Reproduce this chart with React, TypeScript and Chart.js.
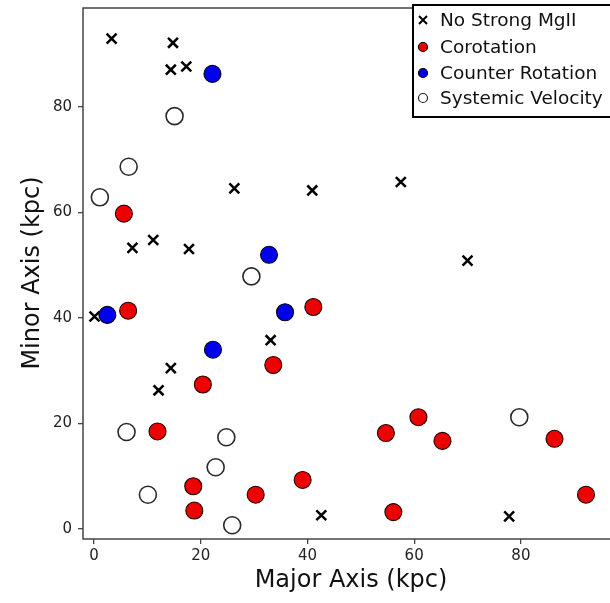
import React, { useEffect, useRef } from "react";
import { Chart, registerables } from "chart.js";

Chart.register(...registerables);

const noMgX = [3.3, 14.8, 14.4, 17.3, 26.3, 40.9, 57.5, 70.0, 7.2, 11.1, 17.8, 0.1, 33.1, 14.4, 12.1, 42.6, 77.8];
const noMgY = [93.0, 92.2, 87.1, 87.7, 64.6, 64.2, 65.8, 50.9, 53.3, 54.8, 53.1, 40.3, 35.8, 30.5, 26.3, 2.6, 2.4];

const coroX = [5.6, 6.4, 41.1, 33.6, 20.4, 11.9, 54.7, 60.8, 65.3, 86.3, 92.2, 56.1, 39.1, 18.6, 30.3, 18.8];
const coroY = [59.8, 41.4, 42.1, 31.1, 27.4, 18.5, 18.2, 21.2, 16.7, 17.1, 6.5, 3.2, 9.3, 8.1, 6.5, 3.5];

const counterX = [22.2, 2.5, 35.8, 22.3, 32.8];
const counterY = [86.3, 40.6, 41.1, 34.0, 52.0];

const sysX = [1.1, 6.5, 15.1, 29.5, 6.1, 24.8, 22.8, 10.1, 25.9, 79.7];
const sysY = [62.9, 68.7, 78.3, 47.9, 18.4, 17.4, 11.7, 6.5, 0.7, 21.2];

const tickValues = [0, 20, 40, 60, 80];
const legendLabels = ["No Strong MgII", "Corotation", "Counter Rotation", "Systemic Velocity"];
const xTitle = "Major Axis (kpc)";
const yTitle = "Minor Axis (kpc)";

const FONT = "'DejaVu Sans', 'Liberation Sans', sans-serif";

function pts(xs: number[], ys: number[]) {
  return xs.map((x, i) => ({ x, y: ys[i] }));
}

const framePlugin = {
  id: "frameAndLegend",
  afterDraw(chart: any) {
    const { ctx, chartArea } = chart;
    const { left, top, right, bottom } = chartArea;
    ctx.save();
    ctx.strokeStyle = "#444";
    ctx.lineWidth = 1.5;
    ctx.beginPath();
    ctx.moveTo(right + 5, top);
    ctx.lineTo(left, top);
    ctx.lineTo(left, bottom);
    ctx.lineTo(right + 5, bottom);
    ctx.stroke();

    ctx.fillStyle = "#111";
    ctx.font = `24px ${FONT}`;
    ctx.textAlign = "center";
    ctx.textBaseline = "middle";
    ctx.fillText(xTitle, 351, 581);
    ctx.save();
    ctx.translate(33, 273);
    ctx.rotate(-Math.PI / 2);
    ctx.fillText(yTitle, 0, 0);
    ctx.restore();

    const lx = 413;
    const ly = 5;
    const lh = 112;
    ctx.fillStyle = "#fff";
    ctx.fillRect(lx, ly, 620 - lx, lh);
    ctx.strokeStyle = "#000";
    ctx.lineWidth = 2;
    ctx.strokeRect(lx, ly, 620 - lx, lh);
    const rows = [20, 47, 73, 98];
    const mx = 423;
    ctx.lineWidth = 2;
    ctx.strokeStyle = "#000";
    ctx.beginPath();
    ctx.moveTo(mx - 4, rows[0] - 4);
    ctx.lineTo(mx + 4, rows[0] + 4);
    ctx.moveTo(mx + 4, rows[0] - 4);
    ctx.lineTo(mx - 4, rows[0] + 4);
    ctx.stroke();
    const circ = (y: number, fill: string, stroke: string) => {
      ctx.beginPath();
      ctx.arc(mx, y, 4.5, 0, Math.PI * 2);
      ctx.fillStyle = fill;
      ctx.fill();
      ctx.lineWidth = 1.2;
      ctx.strokeStyle = stroke;
      ctx.stroke();
    };
    circ(rows[1], "#ee0000", "#000");
    circ(rows[2], "#0000ee", "#000");
    circ(rows[3], "#fff", "#222");
    ctx.fillStyle = "#111";
    ctx.font = `18.5px ${FONT}`;
    ctx.textAlign = "left";
    ctx.textBaseline = "middle";
    legendLabels.forEach((t, i) => ctx.fillText(t, 440, rows[i] + 1));
    ctx.restore();
  },
};

export default function App() {
  const ref = useRef<HTMLCanvasElement | null>(null);
  useEffect(() => {
    if (!ref.current) return;
    const setTicks = (scale: any) => {
      scale.ticks = tickValues.map((v) => ({ value: v }));
    };
    const chart = new Chart(ref.current, {
      type: "scatter",
      data: {
        datasets: [
          {
            label: legendLabels[0],
            data: pts(noMgX, noMgY),
            pointStyle: "crossRot",
            pointRadius: 7,
            borderColor: "#000",
            backgroundColor: "#000",
            borderWidth: 2.5,
            order: 4,
          },
          {
            label: legendLabels[1],
            data: pts(coroX, coroY),
            pointStyle: "circle",
            pointRadius: 8.5,
            backgroundColor: "#ee0000",
            borderColor: "#1a0000",
            borderWidth: 1.1,
            order: 3,
          },
          {
            label: legendLabels[2],
            data: pts(counterX, counterY),
            pointStyle: "circle",
            pointRadius: 8.5,
            backgroundColor: "#0000ee",
            borderColor: "#00001a",
            borderWidth: 1.1,
            order: 2,
          },
          {
            label: legendLabels[3],
            data: pts(sysX, sysY),
            pointStyle: "circle",
            pointRadius: 8.5,
            backgroundColor: "#fff",
            borderColor: "#2a2a2a",
            borderWidth: 1.6,
            order: 1,
          },
        ],
      },
      options: {
        animation: false,
        responsive: false,
        maintainAspectRatio: false,
        layout: { autoPadding: false, padding: { top: 8, right: 0, left: 0, bottom: 0 } },
        plugins: { legend: { display: false }, tooltip: { enabled: false } },
        scales: {
          x: {
            type: "linear",
            min: -2.06,
            max: 96.7,
            afterBuildTicks: setTicks,
            afterFit: (s: any) => {
              s.height = 64;
              s.paddingLeft = 0;
              s.paddingRight = 0;
            },
            border: { display: false },
            grid: { drawOnChartArea: false, drawTicks: true, tickLength: 5, color: "#444", lineWidth: 1.3 },
            ticks: { color: "#222", font: { family: FONT, size: 15 }, padding: 3, maxRotation: 0 },
          },
          y: {
            type: "linear",
            min: -1.9,
            max: 98.8,
            afterBuildTicks: setTicks,
            afterFit: (s: any) => {
              s.width = 83;
              s.paddingTop = 0;
              s.paddingBottom = 0;
            },
            border: { display: false },
            grid: { drawOnChartArea: false, drawTicks: true, tickLength: 5, color: "#444", lineWidth: 1.3 },
            ticks: { color: "#222", font: { family: FONT, size: 15 }, padding: 6 },
          },
        },
      },
      plugins: [framePlugin],
    });
    return () => chart.destroy();
  }, []);
  return (
    <div style={{ position: "fixed", left: 0, top: 0, width: 610, height: 603, background: "#fff" }}>
      <canvas ref={ref} width={610} height={603} style={{ display: "block" }} />
    </div>
  );
}
